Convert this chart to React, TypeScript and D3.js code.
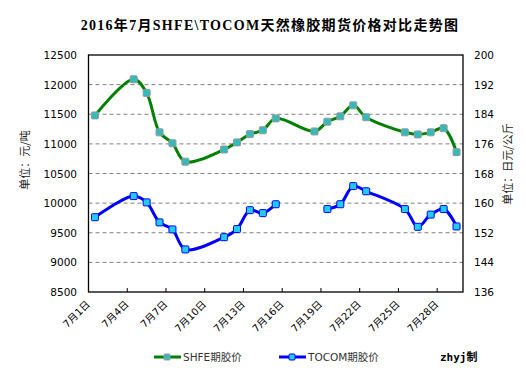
import React from "react";
import * as d3 from "d3";

const title = "2016年7月SHFE\\TOCOM天然橡胶期货价格对比走势图";
const allDays = d3.range(1, 30).map(String);
const tickDays = ["1", "4", "7", "10", "13", "16", "19", "22", "25", "28"];
const tradeDays = ["1", "4", "5", "6", "7", "8", "11", "12", "13", "14", "15", "18", "19", "20", "21", "22", "25", "26", "27", "28", "29"];
const shfeValues = [11480, 12090, 11860, 11195, 11010, 10700, 10905, 11025, 11165, 11230, 11430, 11210, 11375, 11465, 11650, 11450, 11195, 11160, 11195, 11265, 10860];
const tocomValues: (number | null)[] = [156.2, 161.9, 160.2, 154.8, 152.9, 147.5, 150.8, 153.0, 158.1, 157.3, 159.7, null, 158.4, 159.7, 164.6, 163.2, 158.4, 153.6, 156.9, 158.4, 153.7];
const leftTicks = [8500, 9000, 9500, 10000, 10500, 11000, 11500, 12000, 12500];
const rightTicks = [136, 144, 152, 160, 168, 176, 184, 192, 200];
const seriesNames = ["SHFE期胶价", "TOCOM期胶价"];

const L = 88.5, R = 463, T = 55, B = 292;

export default function App() {
  const x = d3.scaleBand<string>().domain(allDays).range([L, R]).padding(0);
  const bw = x.bandwidth();
  const cx = (d: string) => (x(d) as number) + bw / 2;
  const yL = d3.scaleLinear().domain([8500, 12500]).range([B, T]);
  const yR = d3.scaleLinear().domain([136, 200]).range([B, T]);

  const shfe = tradeDays.map((d, i) => ({ d, v: shfeValues[i] }));
  const tocom = tradeDays.map((d, i) => ({ d, v: tocomValues[i] }));

  const lineL = d3.line<{ d: string; v: number }>().x(p => cx(p.d)).y(p => yL(p.v)).curve(d3.curveCatmullRom.alpha(0.5));
  const lineR = d3.line<{ d: string; v: number | null }>()
    .defined(p => p.v != null)
    .x(p => cx(p.d)).y(p => yR(p.v as number)).curve(d3.curveCatmullRom.alpha(0.5));

  const num = "'DejaVu Sans', Verdana, sans-serif";
  const cjk = "'DejaVu Sans', 'Noto Sans CJK SC', sans-serif";
  const m = 3.5;

  return (
    <svg width={526} height={378} style={{ position: "absolute", left: 0, top: 0, background: "#fff" }}>
      <text x={270} y={30} textAnchor="middle" fontFamily="'Liberation Serif', 'Noto Sans CJK SC', serif" fontWeight="bold" fontSize={14} letterSpacing={1.3} fill="#000">{title}</text>

      {leftTicks.slice(1, -1).map(t => (
        <line key={t} x1={L} x2={R} y1={yL(t)} y2={yL(t)} stroke="#808080" strokeWidth={1} strokeDasharray="4,3" />
      ))}
      <rect x={L} y={T} width={R - L} height={B - T} fill="none" stroke="#000" strokeWidth={1.3} />
      {tickDays.map(d => (
        <line key={d} x1={x(d)} x2={x(d)} y1={B} y2={B - 4} stroke="#000" strokeWidth={1} />
      ))}

      {leftTicks.map(t => (
        <text key={t} x={77} y={yL(t) + 4} textAnchor="end" fontFamily={num} fontSize={10.5} fill="#000">{t}</text>
      ))}
      {rightTicks.map(t => (
        <text key={t} x={474} y={yR(t) + 4} textAnchor="start" fontFamily={num} fontSize={10.5} fill="#000">{t}</text>
      ))}
      <text transform="translate(29,160) rotate(-90)" textAnchor="middle" fontFamily="'Noto Sans CJK SC', sans-serif" fontSize={11} fill="#222">单位：元/吨</text>
      <text transform="translate(512,164) rotate(-90)" textAnchor="middle" fontFamily="'Noto Sans CJK SC', sans-serif" fontSize={11} fill="#222">单位：日元/公斤</text>

      {tickDays.map(d => (
        <text key={d} transform={`translate(${(x(d) as number) + 2},${305}) rotate(-45)`} textAnchor="end" fontFamily={cjk} fontSize={10} fill="#000">{`7月${d}日`}</text>
      ))}

      <path d={lineL(shfe) as string} fill="none" stroke="#008000" strokeWidth={3} />
      {shfe.map(p => (
        <rect key={p.d} x={cx(p.d) - m} y={yL(p.v) - m} width={2 * m} height={2 * m} rx={1} fill="#33BBBB" stroke="#999" strokeWidth={1} />
      ))}
      <path d={lineR(tocom) as string} fill="none" stroke="#0000FF" strokeWidth={3} />
      {tocom.filter(p => p.v != null).map(p => (
        <rect key={p.d} x={cx(p.d) - m} y={yR(p.v as number) - m} width={2 * m} height={2 * m} rx={1} fill="#22CCEE" stroke="#0000FF" strokeWidth={1} />
      ))}

      <line x1={154} x2={181} y1={357} y2={357} stroke="#008000" strokeWidth={3} />
      <rect x={164} y={354} width={6} height={6} rx={1} fill="#33BBBB" stroke="#999" />
      <text x={183} y={361} fontFamily={cjk} fontSize={10.5} fill="#333">{seriesNames[0]}</text>
      <line x1={279} x2={306} y1={357} y2={357} stroke="#0000FF" strokeWidth={3} />
      <rect x={289} y={354} width={6} height={6} rx={1} fill="#22CCEE" stroke="#0000FF" />
      <text x={308} y={361} fontFamily={cjk} fontSize={10.5} fill="#333">{seriesNames[1]}</text>
      <text x={440} y={361} fontFamily="'DejaVu Sans Mono', 'Noto Sans CJK SC', monospace" fontWeight="bold" fontSize={11} fill="#000">zhyj制</text>
    </svg>
  );
}
